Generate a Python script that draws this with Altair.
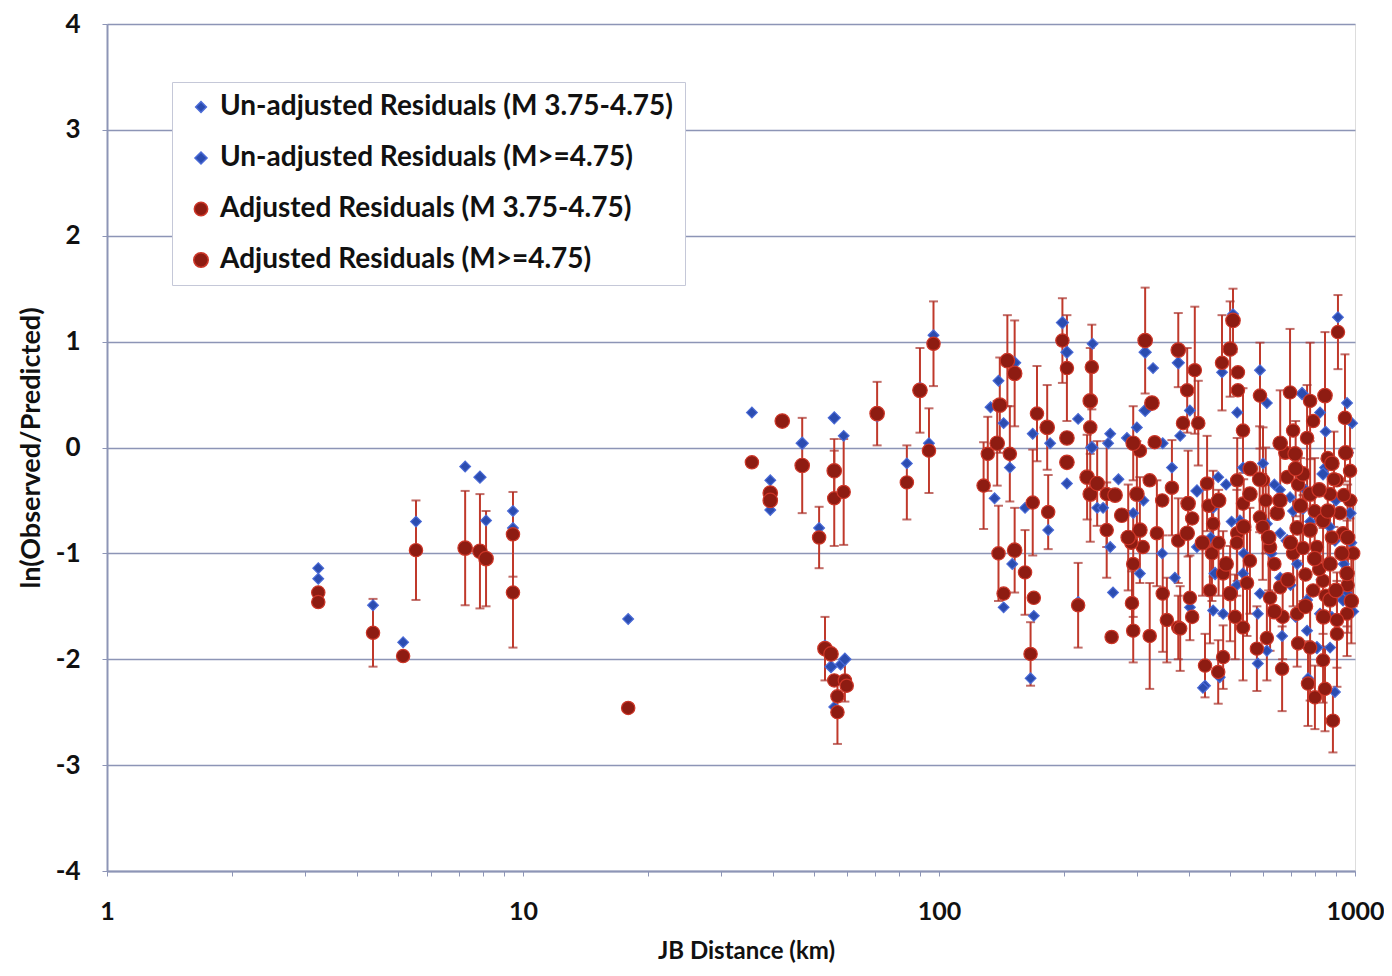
import altair as alt
import pandas as pd

LABELS = [
    "Un-adjusted Residuals (M 3.75-4.75)",
    "Un-adjusted Residuals (M>=4.75)",
    "Adjusted Residuals (M 3.75-4.75)",
    "Adjusted Residuals (M>=4.75)",
]

# Un-adjusted residuals, M 3.75-4.75 (distance km, residual)
ua_small_dist = [3.22, 3.22, 4.36, 5.15, 5.53, 7.26, 8.15, 9.46, 9.46, 17.9, 35.5, 39.3, 39.3, 51.5, 59, 83.7,
                 94.6, 97, 53.2, 58, 56, 139, 133, 143, 136, 148, 150, 143, 169, 166, 161, 168, 185, 183, 203,
                 216, 216, 234, 240, 327, 401, 380, 299, 283, 258, 255, 248, 258, 262, 345, 363, 293, 304, 344,
                 369, 417, 401, 469, 456, 482, 456, 436, 473, 431, 509, 479, 591, 614, 521, 910, 824, 957, 984,
                 962, 538, 601, 847, 698, 750, 529, 614, 661, 895, 726, 538, 661, 591, 957, 767, 824, 584, 614,
                 584, 668, 767, 871, 771, 895, 700, 780, 880, 640, 920, 850, 505, 540,
                 630, 710, 760, 830, 900, 940, 980, 660, 720, 870, 990, 450, 520, 490, 270, 310]
ua_small_res = [-1.14, -1.24, -1.49, -1.84, -0.70, -0.18, -0.69, -0.60, -0.76, -1.62, 0.33, -0.31, -0.59, -0.76,
                0.11, -0.15, 0.04, 1.06, -1.87, -2.05, -2.45, 0.63, 0.38, 0.23, -0.48, -0.19, -1.10, -1.51,
                -1.59, -2.18, -0.57, 0.13, 0.04, -0.78, -0.34, 0.27, -1.46, 0.98, -0.57, 0.75, 0.35, 0.11, 0.19,
                0.09, 0.13, 0.04, -0.57, -0.94, -1.37, 0.04, -0.19, -0.62, -1.19, -1.00, -1.23, -0.94, -1.51,
                -0.28, -0.57, -1.57, -1.54, -2.25, -2.17, -2.27, 1.26, 0.71, 0.73, 0.42, 0.33, 1.23, 0.33, 0.42,
                0.23, -0.05, -0.19, -0.15, -0.19, -0.47, -0.58, -0.69, -0.72, -0.81, -0.88, -1.10, -1.19, -1.23,
                -1.38, -1.38, -1.44, -1.57, -1.57, -1.92, -2.04, -1.78, -1.73, -1.89, -2.18, -2.31, -1.30,
                -0.70, -1.60, -0.35, -1.00, 0.15, -0.70, -1.00,
                -1.00, -0.60, -0.40, -1.25, -0.50, -1.10, -0.90, -0.40, -1.60, -0.75, -1.55, -0.85, -1.30, -0.35,
                -0.30, -0.50]

# Un-adjusted residuals, M>=4.75
ua_large_dist = [7.88, 71, 90, 56, 46.9, 55, 59.4, 152, 313, 376, 313, 198, 203, 233, 417, 461, 746, 838, 973,
                 687, 936, 810]
ua_large_res = [-0.28, 0.30, 0.56, 0.28, 0.04, -2.07, -2.00, 0.80, 0.90, 0.80, 0.35, 1.18, 0.90, 0.00, -0.41,
                -1.19, 0.51, -0.25, -0.62, -0.88, -1.44, -1.89]

# Adjusted residuals, M 3.75-4.75 (distance, residual, error half-width)
adj_small_dist = [3.22, 3.22, 4.36, 5.15, 5.53, 9.46, 9.46, 17.9, 35.5, 51.5, 56, 59, 83.7, 94.6, 97, 56, 57, 57,
                  59.4, 60, 131, 128, 148, 139, 161, 143, 169, 166, 168, 172, 183, 198, 203, 216, 233, 231, 253,
                  253, 260, 304, 363, 321, 309, 293, 291, 293, 321, 344, 334, 345, 353, 376, 376, 380, 406, 412,
                  395, 386, 420, 401, 406, 441, 456, 453, 448, 482, 436, 469, 482, 479, 523, 591, 523, 538, 910,
                  698, 780, 946, 710, 767, 793, 601, 521, 538, 905, 973, 973, 687, 871, 920, 591, 521, 936, 810,
                  710, 559, 625, 550, 661, 625, 793, 838, 957, 726, 905, 538, 614, 581, 668, 780, 838, 905, 771,
                  801, 847, 885, 760, 880, 640, 730, 860, 600, 520, 330, 290,
                  610, 680, 750, 820, 890, 940, 990, 670, 730, 800, 850, 960, 445, 515, 470]
adj_small_res = [-1.37, -1.46, -1.75, -1.97, -0.97, -0.82, -1.37, -2.46, -0.14, -0.85, -0.48, -0.42, -0.33, -0.03,
                 0.98, -2.20, -2.35, -2.50, -2.20, -2.25, -0.06, -0.36, -0.06, -1.00, -1.18, -1.38, -1.42, -1.95,
                 -0.52, 0.32, -0.61, 1.01, 0.75, -1.49, 0.76, 0.19, -0.44, -0.78, -1.79, -0.03, -0.38, -0.31,
                 -0.94, -1.10, -1.47, -1.73, -1.78, -0.50, -0.81, -1.38, -1.63, -0.88, -1.70, -1.71, -0.67, 0.73,
                 0.54, 0.23, 0.23, -1.42, -1.60, -0.34, -0.72, -1.00, -1.35, -1.19, -2.06, -2.12, -1.98, 0.80,
                 0.54, 0.49, 0.71, 0.16, 1.09, 0.52, 0.44, 0.28, 0.16, 0.09, 0.25, -0.31, -0.31, -0.53, -0.31,
                 -0.22, -0.50, -0.28, -0.44, -0.62, -0.66, -0.81, -0.81, -0.94, -1.00, -1.07, -0.94, -1.28, -1.32,
                 -1.42, -1.35, -1.26, -1.57, -1.57, -1.63, -1.70, -1.80, -1.90, -2.09, -1.89, -2.01, -1.76, -2.23,
                 -2.36, -2.28, -2.58, -1.20, -0.85, -1.10, -0.35, -0.10, -0.75, -0.90, 0.05, -0.90,
                 -0.50, -0.05, -0.95, -1.15, -0.30, -0.45, -1.00, -1.60, -1.85, -0.60, -1.40, -1.30, -0.55,
                 -1.60, -0.90]
adj_small_err = [0, 0, 0.32, 0, 0.47, 0.40, 0.52, 0, 0, 0.29, 0.45, 0.50, 0.35, 0.40, 0.40, 0, 0, 0.30, 0.20, 0,
                 0.35, 0.41, 0.45, 0.45, 0.40, 0, 0, 0.30, 0.50, 0.45, 0.35, 0.40, 0.50, 0.40, 0.40, 0, 0.50,
                 0.45, 0, 0, 0.45, 0, 0, 0.50, 0.30, 0.30, 0.50, 0, 0.50, 0.55, 0.40, 0.40, 0.30, 0.40, 0, 0.60,
                 0.40, 0, 0.40, 0.40, 0, 0.45, 0.50, 0.45, 0.50, 0.40, 0.30, 0.30, 0.30, 0.45, 0, 0.50, 0, 0.40,
                 0.35, 0.60, 0.55, 0.60, 0, 0.50, 0, 0.50, 0.40, 0, 0, 0.45, 0, 0, 0, 0, 0, 0.45, 0, 0, 0.50,
                 0.50, 0, 0.50, 0, 0.50, 0, 0.50, 0.40, 0.50, 0.45, 0.50, 0.40, 0.40, 0.40, 0.50, 0.40, 0.50,
                 0.40, 0.30, 0.40, 0.30, 0, 0, 0, 0, 0, 0.50, 0.50, 0, 0,
                 0.50, 0, 0.50, 0, 0.45, 0, 0.50, 0.40, 0, 0.50, 0, 0.45, 0, 0.40, 0.50]

# Adjusted residuals, M>=4.75
adj_large_dist = [7.26, 7.88, 8.15, 42, 39.3, 39.3, 46.9, 56, 71, 90, 53.2, 55, 146, 140, 138, 152, 152, 182, 203,
                  203, 231, 227, 231, 313, 376, 325, 293, 240, 299, 275, 304, 397, 395, 501, 509, 501, 847, 661,
                  718, 559, 750, 780, 650, 726, 780, 838, 871, 957, 871, 700, 820, 930, 950, 660, 470, 560,
                  620, 690, 740, 800, 860, 900, 960, 640, 720, 880, 980, 760, 590, 840, 430, 490, 540, 265, 285]
adj_large_res = [-0.95, -0.98, -1.05, 0.25, -0.43, -0.50, -0.17, -0.22, 0.32, 0.54, -1.90, -1.95, 0.82, 0.40, 0.04,
                 0.70, -0.97, 0.19, 0.09, -0.14, 0.44, -0.28, -0.44, 1.01, 0.92, 0.42, 0.04, -0.34, -0.44, -0.64,
                 -0.78, -0.53, -0.81, -1.38, 1.20, 0.93, 0.49, 0.04, -0.06, -0.44, -0.25, -0.44, -0.62, -0.76,
                 -0.78, -0.69, -1.10, -1.19, -1.44, -0.90, -0.40, -1.00, -0.05, -0.50, -0.50, -0.20,
                 -0.85, -1.25, -0.55, -1.05, -0.60, -1.35, -0.85, -1.55, -0.20, -0.15, -1.45, -1.50, -0.30,
                 -1.60, -0.90, -1.10, -0.75, -0.45, -0.85]
adj_large_err = [0.54, 0.54, 0.45, 0, 0, 0, 0.45, 0.30, 0.30, 0.40, 0.30, 0, 0.43, 0.45, 0.40, 0.50, 0.40, 0.40,
                 0, 0, 0.50, 0.40, 0.45, 0.50, 0.35, 0, 0.35, 0.40, 0.50, 0, 0.50, 0.50, 0, 0.45, 0.30, 0.45,
                 0.60, 0.50, 0, 0, 0, 0.50, 0, 0, 0, 0, 0.50, 0.50, 0, 0, 0, 0, 0, 0, 0, 0,
                 0.50, 0, 0.45, 0, 0.50, 0, 0.50, 0, 0.45, 0, 0.40, 0, 0.50, 0, 0.50, 0, 0.45, 0, 0.50]

rows = []
for d, r in zip(ua_small_dist, ua_small_res):
    rows.append({"dist": d, "res": r, "series": LABELS[0], "ord": 0})
for d, r in zip(ua_large_dist, ua_large_res):
    rows.append({"dist": d, "res": r, "series": LABELS[1], "ord": 1})
for d, r in zip(adj_small_dist, adj_small_res):
    rows.append({"dist": d, "res": r, "series": LABELS[2], "ord": 2})
for d, r in zip(adj_large_dist, adj_large_res):
    rows.append({"dist": d, "res": r, "series": LABELS[3], "ord": 3})
pts = pd.DataFrame(rows)

erows = []
for d, r, e in list(zip(adj_small_dist, adj_small_res, adj_small_err)) + list(zip(adj_large_dist, adj_large_res, adj_large_err)):
    if e > 0:
        erows.append({"dist": d, "lo": r - e, "hi": r + e})
errs = pd.DataFrame(erows)

FONT = "Lato"
GRID = "#8d95b6"

xscale = alt.Scale(type="log", domain=[1, 1000], nice=False)
yscale = alt.Scale(domain=[-4, 4], nice=False, zero=False)

xticks = [1, 2, 3, 4, 5, 6, 7, 8, 9, 10, 20, 30, 40, 50, 60, 70, 80, 90,
          100, 200, 300, 400, 500, 600, 700, 800, 900, 1000]

xaxis = alt.Axis(
    title="JB Distance (km)", values=xticks,
    labelExpr="(datum.value==1||datum.value==10||datum.value==100||datum.value==1000) ? '' + datum.value : ''",
    grid=False, domainColor=GRID, domainWidth=2, tickColor=GRID, tickSize=5,
    labelFont=FONT, labelFontSize=25, labelFontWeight="bold", labelColor="#111111",
    labelPadding=23, labelFlush=False, labelOverlap=False,
    titleFont=FONT, titleFontSize=24, titleFontWeight="bold", titleColor="#111111", titlePadding=15,
    titleX=639, titleAlign="center",
)
yaxis = alt.Axis(
    title="ln(Observed/Predicted)", values=[-4, -3, -2, -1, 0, 1, 2, 3, 4],
    labelExpr="'' + datum.value",
    grid=True, gridColor=GRID, gridWidth=1.5, domainColor=GRID, domainWidth=2,
    tickColor=GRID, tickSize=5,
    labelFont=FONT, labelFontSize=26, labelFontWeight="bold", labelColor="#111111",
    labelPadding=22, labelFlush=False,
    titleFont=FONT, titleFontSize=27, titleFontWeight="bold", titleColor="#111111", titlePadding=10,
)

rules = alt.Chart(errs).mark_rule(color="#c0392b", strokeWidth=2).encode(
    x=alt.X("dist:Q", scale=xscale, axis=xaxis),
    y=alt.Y("lo:Q", scale=yscale, axis=yaxis),
    y2="hi:Q",
)
cap_lo = alt.Chart(errs).mark_tick(orient="horizontal", color="#a8302a", thickness=2, size=9).encode(
    x=alt.X("dist:Q", scale=xscale), y=alt.Y("lo:Q", scale=yscale))
cap_hi = alt.Chart(errs).mark_tick(orient="horizontal", color="#a8302a", thickness=2, size=9).encode(
    x=alt.X("dist:Q", scale=xscale), y=alt.Y("hi:Q", scale=yscale))

legend = alt.Legend(
    title=None, orient="none", legendX=65, legendY=58,
    fillColor="white", strokeColor="#c5c8d8", padding=11,
    labelFont=FONT, labelFontSize=28, labelFontWeight="bold", labelColor="#111111",
    labelLimit=700, rowPadding=23, labelOffset=5, symbolOffset=4,
)

points = alt.Chart(pts).mark_point(filled=True, opacity=1, strokeWidth=1.2).encode(
    x=alt.X("dist:Q", scale=xscale),
    y=alt.Y("res:Q", scale=yscale),
    color=alt.Color("series:N", scale=alt.Scale(domain=LABELS, range=["#2b4cb0", "#2b4cb0", "#8e1c12", "#8e1c12"]), legend=legend),
    stroke=alt.Stroke("series:N", scale=alt.Scale(domain=LABELS, range=["#4a6ad6", "#4a6ad6", "#cc3628", "#cc3628"]), legend=legend),
    shape=alt.Shape("series:N", scale=alt.Scale(domain=LABELS, range=["diamond", "diamond", "circle", "circle"]), legend=legend),
    size=alt.Size("series:N", scale=alt.Scale(domain=LABELS, range=[115, 210, 85, 200]), legend=legend),
    order=alt.Order("ord:Q"),
)

chart = alt.layer(rules, cap_lo, cap_hi, points).properties(
    width=1248, height=847,
    autosize=alt.AutoSizeParams(type="none"),
    padding={"left": 99, "top": 16, "right": 29, "bottom": 92},
).configure_view(stroke="#dcdfe8", strokeWidth=1).configure(background="white")

chart.save("out.html", embed_options={"renderer": "svg", "actions": False})
